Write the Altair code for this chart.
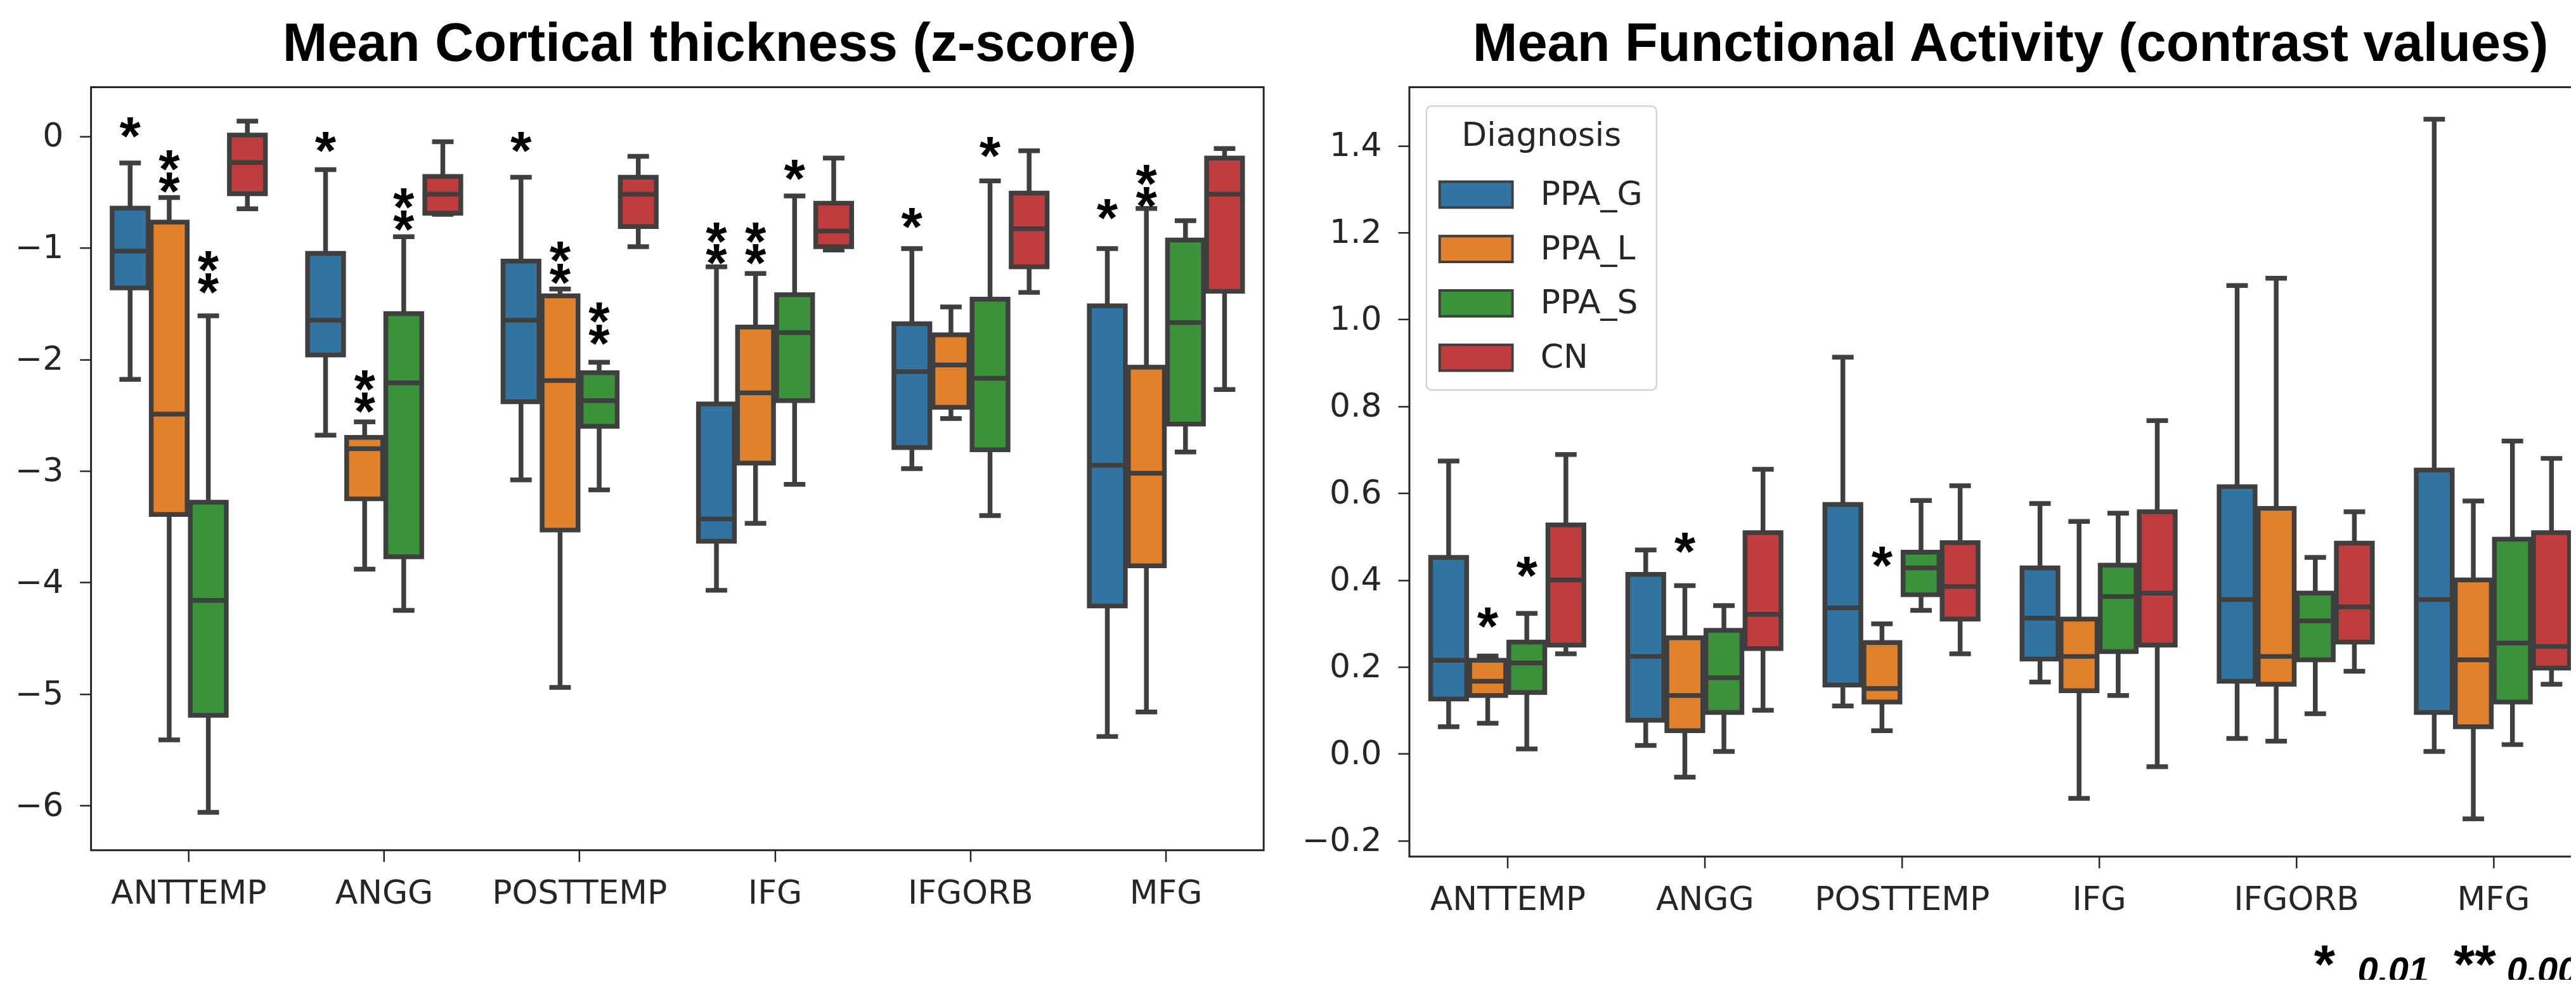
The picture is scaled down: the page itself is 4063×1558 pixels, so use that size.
import altair as alt
import pandas as pd

regions = ["ANTTEMP", "ANGG", "POSTTEMP", "IFG", "IFGORB", "MFG"]
groups = ["PPA_G", "PPA_L", "PPA_S", "CN"]
colors = ["#3274a1", "#e1812c", "#3a923a", "#c03d3e"]

# Mean cortical thickness (z-score); order: region-major, then PPA_G, PPA_L, PPA_S, CN
ct_low = [-2.18, -5.41, -6.06, -0.65,
          -2.68, -3.88, -4.25, -0.70,
          -3.08, -4.94, -3.17, -0.99,
          -4.07, -3.47, -3.12, -1.02,
          -2.98, -2.53, -3.40, -1.40,
          -5.38, -5.16, -2.83, -2.27]
ct_q1 = [-1.36, -3.39, -5.19, -0.515,
         -1.96, -3.25, -3.77, -0.69,
         -2.38, -3.53, -2.60, -0.81,
         -3.63, -2.93, -2.37, -0.99,
         -2.79, -2.43, -2.81, -1.17,
         -4.21, -3.85, -2.58, -1.39]
ct_med = [-1.03, -2.49, -4.16, -0.235,
          -1.65, -2.80, -2.21, -0.52,
          -1.65, -2.19, -2.37, -0.52,
          -3.43, -2.30, -1.76, -0.85,
          -2.11, -2.05, -2.17, -0.83,
          -2.95, -3.02, -1.67, -0.52]
ct_q3 = [-0.645, -0.77, -3.28, 0.01,
         -1.05, -2.70, -1.59, -0.36,
         -1.12, -1.43, -2.12, -0.368,
         -2.40, -1.71, -1.42, -0.60,
         -1.68, -1.78, -1.46, -0.51,
         -1.52, -2.07, -0.93, -0.196]
ct_high = [-0.24, -0.55, -1.61, 0.135,
           -0.30, -2.56, -0.90, -0.05,
           -0.368, -1.37, -2.026, -0.18,
           -1.17, -1.23, -0.535, -0.196,
           -1.007, -1.53, -0.40, -0.13,
           -1.007, -0.647, -0.757, -0.11]

# Mean functional activity (contrast values)
fa_low = [0.062, 0.07, 0.011, 0.23,
          0.019, -0.054, 0.005, 0.10,
          0.11, 0.053, 0.33, 0.23,
          0.165, -0.103, 0.134, -0.03,
          0.035, 0.029, 0.092, 0.19,
          0.005, -0.15, 0.021, 0.16]
fa_q1 = [0.126, 0.134, 0.141, 0.25,
         0.077, 0.053, 0.095, 0.242,
         0.158, 0.119, 0.366, 0.31,
         0.218, 0.145, 0.235, 0.25,
         0.167, 0.16, 0.216, 0.257,
         0.095, 0.062, 0.119, 0.197]
fa_med = [0.215, 0.167, 0.209, 0.40,
          0.224, 0.134, 0.175, 0.321,
          0.336, 0.150, 0.428, 0.385,
          0.312, 0.224, 0.362, 0.370,
          0.355, 0.224, 0.306, 0.338,
          0.355, 0.216, 0.255, 0.247]
fa_q3 = [0.452, 0.215, 0.257, 0.527,
         0.413, 0.267, 0.284, 0.509,
         0.574, 0.256, 0.464, 0.486,
         0.428, 0.31, 0.434, 0.557,
         0.615, 0.565, 0.37, 0.485,
         0.653, 0.40, 0.494, 0.509]
fa_high = [0.674, 0.225, 0.323, 0.689,
           0.469, 0.387, 0.341, 0.655,
           0.913, 0.299, 0.583, 0.617,
           0.576, 0.535, 0.554, 0.767,
           1.078, 1.095, 0.452, 0.557,
           1.461, 0.582, 0.720, 0.68]

# significance markers
ct_star_region = ["ANTTEMP", "ANTTEMP", "ANTTEMP", "ANGG", "ANGG", "ANGG",
                  "POSTTEMP", "POSTTEMP", "POSTTEMP", "IFG", "IFG", "IFG",
                  "IFGORB", "IFGORB", "MFG", "MFG"]
ct_star_group = ["PPA_G", "PPA_L", "PPA_S", "PPA_G", "PPA_L", "PPA_S",
                 "PPA_G", "PPA_L", "PPA_S", "PPA_G", "PPA_L", "PPA_S",
                 "PPA_G", "PPA_S", "PPA_G", "PPA_L"]
ct_star_text = ["*", "*\n*", "*\n*", "*", "*\n*", "*\n*",
                "*", "*\n*", "*\n*", "*\n*", "*\n*", "*",
                "*", "*", "*", "*\n*"]
ct_star_y = [0.105, -0.189, -1.093, -0.024, -2.163, -0.533,
             -0.026, -1.007, -1.554, -0.835, -0.835, -0.273,
             -0.705, -0.072, -0.627, -0.322]

fa_star_region = ["ANTTEMP", "ANTTEMP", "ANGG", "POSTTEMP"]
fa_star_group = ["PPA_L", "PPA_S", "PPA_L", "PPA_L"]
fa_star_text = ["*", "*", "*", "*"]
fa_star_y = [0.32, 0.437, 0.492, 0.46]

foot_text = ["*", "0.01", "**", "0.001"]

LINE = "#3f3f3f"
LW = 7.5
AXC = "#262626"
TICKFONT = "DejaVu Sans"


def box_frame(low, q1, med, q3, high):
    rows = []
    for i, r in enumerate(regions):
        for j, g in enumerate(groups):
            k = i * 4 + j
            rows.append(dict(region=r, group=g, low=low[k], q1=q1[k],
                             med=med[k], q3=q3[k], high=high[k]))
    return pd.DataFrame(rows)


def star_frame(reg, grp, txt, yv):
    return pd.DataFrame({"region": reg, "group": grp, "text": txt, "y": yv})


def panel(df, sdf, ydomain, yvalues, yformat, width, height, yext,
          title, tdx, toff, legend, extra=None):
    x = alt.X("region:N", sort=regions,
              scale=alt.Scale(domain=regions, paddingInner=0.2, paddingOuter=0.1),
              axis=alt.Axis(title=None, labelAngle=0, labelFont=TICKFONT,
                            labelFontSize=52, labelColor=AXC, labelPadding=25,
                            labelLimit=1000, tickSize=18, tickWidth=2.5,
                            tickColor=AXC, domain=False, grid=False))
    xo = alt.XOffset("group:N", sort=groups,
                     scale=alt.Scale(domain=groups, paddingInner=0.08, paddingOuter=0.04))
    yax = alt.Axis(title=None, values=yvalues, format=yformat, labelFont=TICKFONT,
                   labelFontSize=52, labelColor=AXC, labelPadding=26,
                   tickSize=18, tickWidth=2.5, tickColor=AXC, domain=False,
                   grid=False, minExtent=yext, maxExtent=yext)
    ysc = alt.Scale(domain=ydomain, nice=False, zero=False)
    fill = alt.Fill("group:N", sort=groups,
                    scale=alt.Scale(domain=groups, range=colors), legend=legend)
    base = alt.Chart(df)
    whisk = base.mark_rule(color=LINE, strokeWidth=LW, clip=True).encode(
        x=x, xOffset=xo, y=alt.Y("low:Q", scale=ysc, axis=yax), y2="high:Q")
    box = base.mark_bar(stroke=LINE, strokeWidth=LW, clip=True).encode(
        x=x, xOffset=xo, y="q1:Q", y2="q3:Q", fill=fill)
    cap_lo = base.mark_tick(orient="horizontal", size=34, thickness=LW, color=LINE,
                            opacity=1, clip=True).encode(x=x, xOffset=xo, y="low:Q")
    cap_hi = base.mark_tick(orient="horizontal", size=34, thickness=LW, color=LINE,
                            opacity=1, clip=True).encode(x=x, xOffset=xo, y="high:Q")
    med = base.mark_tick(orient="horizontal", size=58, thickness=LW, color=LINE,
                         opacity=1, clip=True).encode(x=x, xOffset=xo, y="med:Q")
    stars = alt.Chart(sdf).mark_text(
        font="Liberation Sans", fontWeight="bold", fontSize=86, color="black",
        baseline="middle", align="center", lineBreak="\n", lineHeight=35, dy=22
    ).encode(x=x, xOffset=xo, y="y:Q", text="text:N")
    layers = [whisk, box, cap_lo, cap_hi, med, stars]
    if extra:
        layers += extra
    return alt.layer(*layers).properties(
        width=width, height=height,
        title=alt.TitleParams(text=title, font="Liberation Sans", fontSize=85,
                              fontWeight="bold", color="black", anchor="middle",
                              dx=tdx, offset=toff, baseline="alphabetic"))


ct_df = box_frame(ct_low, ct_q1, ct_med, ct_q3, ct_high)
fa_df = box_frame(fa_low, fa_q1, fa_med, fa_q3, fa_high)
ct_sdf = star_frame(ct_star_region, ct_star_group, ct_star_text, ct_star_y)
fa_sdf = star_frame(fa_star_region, fa_star_group, fa_star_text, fa_star_y)

# footnote (significance key), right panel pixel layout
foot_x = [1431, 1500, 1652, 1736]
foot_size = [86, 58, 86, 58]
foot_style = ["normal", "italic", "normal", "italic"]
foot = []
for t, fx, fs, st in zip(foot_text, foot_x, foot_size, foot_style):
    foot.append(alt.Chart(pd.DataFrame({"t": [t]})).mark_text(
        font="Liberation Sans", fontWeight="bold", fontStyle=st, fontSize=fs,
        color="black", align="left", baseline="alphabetic"
    ).encode(x=alt.value(fx), y=alt.value(1416.5), text="t:N"))

legend = alt.Legend(title="Diagnosis", orient="none", legendX=27, legendY=30,
                    direction="vertical",
                    symbolType="M-1.92,-0.68H1.92V0.68H-1.92Z", symbolSize=3600,
                    symbolOffset=24.5, symbolStrokeColor=LINE, symbolStrokeWidth=4,
                    labelFont=TICKFONT, labelFontSize=52, labelColor=AXC,
                    labelOffset=70, labelLimit=1000, titleLimit=1000,
                    titleFont=TICKFONT, titleFontSize=52,
                    titleFontWeight="normal", titleColor=AXC, titleAnchor="middle",
                    titlePadding=34, padding=22, rowPadding=25)

left = panel(ct_df, ct_sdf, [-6.40, 0.44], [-6, -5, -4, -3, -2, -1, 0], "d",
             1855, 1207, 121,
             "Mean Cortical thickness (z-score)", 51, -43, None)
right = panel(fa_df, fa_sdf, [-0.237, 1.535],
              [-0.2, 0.0, 0.2, 0.4, 0.6, 0.8, 1.0, 1.2, 1.4], ".1f",
              1871, 1217, 170,
              "Mean Functional Activity (contrast values)", 15.5, -43,
              legend, extra=foot)

# negative right/bottom padding crops the figure at the edges like the source image
chart = alt.hconcat(left, right, spacing=56.5).resolve_scale(
    fill="independent").resolve_legend(fill="independent").properties(
    background="white",
    padding={"left": 13, "top": 15.5, "right": -46, "bottom": -26}
).configure_view(stroke=AXC, strokeWidth=3, fill="white").configure_legend(
    strokeColor="#d4d4d4", strokeWidth=2.5, cornerRadius=8, fillColor="white")

chart.save("out.html", embed_options={"renderer": "svg", "actions": False})
